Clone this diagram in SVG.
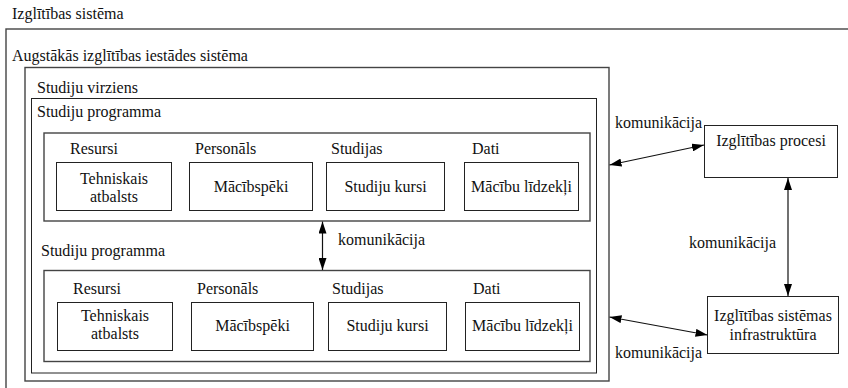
<svg xmlns="http://www.w3.org/2000/svg" width="848" height="388" viewBox="0 0 848 388">
  <style>
    .box { fill: none; stroke: #222; stroke-width: 1; }
    .frame { fill: none; stroke: #444; stroke-width: 1.4; }
    text { font-family: "Liberation Serif", "Times New Roman", serif; font-size: 16px; fill: #111; }
    .c { text-anchor: middle; }
    .link { stroke: #111; stroke-width: 1.2; fill: none; marker-start: url(#arrow); marker-end: url(#arrow); }
  </style>
  <defs>
    <marker id="arrow" viewBox="0 0 12 8" refX="12" refY="4" markerWidth="12" markerHeight="8" markerUnits="userSpaceOnUse" orient="auto-start-reverse">
      <path d="M0,0 L12,4 L0,8 z" fill="#000"/>
    </marker>
  </defs>
  <rect width="848" height="388" fill="#fff"/>

  <!-- Nested system frames -->
  <g id="izglitibas-sistema">
    <text x="12" y="19">Izglītības sistēma</text>
    <rect class="frame" x="6" y="29" width="860" height="380"/>
  </g>
  <g id="augstakas-iestades-sistema">
    <text x="12" y="61">Augstākās izglītības iestādes sistēma</text>
    <rect class="frame" x="25" y="67.5" width="584" height="313.5"/>
  </g>
  <g id="studiju-virziens">
    <text x="37" y="93">Studiju virziens</text>
    <rect class="box" x="31.5" y="98.5" width="565" height="274.5"/>
  </g>

  <!-- First study programme -->
  <g id="programma-1">
    <text x="37" y="117">Studiju programma</text>
    <rect class="frame" x="44" y="133" width="546" height="88"/>
    <text x="70" y="154">Resursi</text>
    <text x="195" y="154">Personāls</text>
    <text x="331" y="154">Studijas</text>
    <text x="472" y="154">Dati</text>
  </g>
  <g id="p1-tehniskais">
    <rect class="box" x="56.5" y="162.5" width="115" height="48"/>
    <text class="c" x="114" y="184">Tehniskais</text>
    <text class="c" x="114" y="202">atbalsts</text>
  </g>
  <g id="p1-macibspeki">
    <rect class="box" x="189.5" y="162.5" width="123" height="48"/>
    <text class="c" x="251" y="192">Mācībspēki</text>
  </g>
  <g id="p1-studiju-kursi">
    <rect class="box" x="326.5" y="162.5" width="118" height="48"/>
    <text class="c" x="385.5" y="192">Studiju kursi</text>
  </g>
  <g id="p1-macibu-lidzekli">
    <rect class="box" x="464.5" y="162.5" width="114" height="48"/>
    <text class="c" x="521.5" y="192">Mācību līdzekļi</text>
  </g>

  <!-- Second study programme -->
  <g id="programma-2">
    <text x="41" y="256">Studiju programma</text>
    <rect class="frame" x="44" y="270.5" width="546" height="91"/>
    <text x="73" y="294">Resursi</text>
    <text x="197" y="294">Personāls</text>
    <text x="332" y="294">Studijas</text>
    <text x="473" y="294">Dati</text>
  </g>
  <g id="p2-tehniskais">
    <rect class="box" x="57.5" y="302.5" width="115" height="48"/>
    <text class="c" x="115" y="321">Tehniskais</text>
    <text class="c" x="115" y="339">atbalsts</text>
  </g>
  <g id="p2-macibspeki">
    <rect class="box" x="191.5" y="302.5" width="122" height="48"/>
    <text class="c" x="252.5" y="331">Mācībspēki</text>
  </g>
  <g id="p2-studiju-kursi">
    <rect class="box" x="328.5" y="302.5" width="118" height="48"/>
    <text class="c" x="387.5" y="331">Studiju kursi</text>
  </g>
  <g id="p2-macibu-lidzekli">
    <rect class="box" x="465.5" y="302.5" width="114" height="48"/>
    <text class="c" x="522.5" y="331">Mācību līdzekļi</text>
  </g>

  <!-- External nodes -->
  <g id="izglitibas-procesi">
    <rect class="box" x="704.5" y="125.5" width="133" height="52"/>
    <text class="c" x="771" y="146">Izglītības procesi</text>
  </g>
  <g id="infrastruktura">
    <rect class="box" x="707.5" y="296.5" width="131" height="57"/>
    <text class="c" x="773" y="321">Izglītības sistēmas</text>
    <text class="c" x="773" y="340">infrastruktūra</text>
  </g>

  <!-- Communication links -->
  <g id="connectors">
    <line class="link" x1="322.5" y1="221.5" x2="322.5" y2="270"/>
    <text x="338" y="245">komunikācija</text>
    <line class="link" x1="609.5" y1="165" x2="704" y2="145"/>
    <text x="615" y="128">komunikācija</text>
    <line class="link" x1="788" y1="178" x2="788" y2="296"/>
    <text x="689" y="248">komunikācija</text>
    <line class="link" x1="609.5" y1="317" x2="707.5" y2="335"/>
    <text x="615" y="358">komunikācija</text>
  </g>
</svg>
